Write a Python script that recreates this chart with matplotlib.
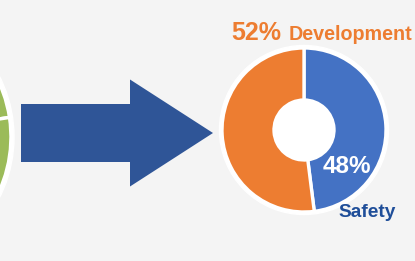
import matplotlib.pyplot as plt
from matplotlib.patches import FancyArrow, Circle

# donut data (clockwise from top)
labels = ["Safety", "Development"]
shares = [48, 52]
colors = ["#4472C4", "#ED7D31"]

# partially visible pie on the left edge
left_shares = [50, 50]
left_colors = ["#9BBB59", "#9BBB59"]

W, H = 415, 261
fig = plt.figure(figsize=(W / 100, H / 100), dpi=100)
fig.patch.set_facecolor("#F4F4F4")
ax = fig.add_axes([0, 0, 1, 1])
ax.set_facecolor("#F4F4F4")

# left green pie, mostly cut off
ax.add_patch(Circle((-120, 124), 134, color="white", zorder=1))
ax.pie(left_shares, colors=left_colors, center=(-120, 124), radius=131,
       startangle=8.6, counterclock=True,
       wedgeprops=dict(edgecolor="white", linewidth=2.5, zorder=2))

# arrow
ax.add_patch(FancyArrow(21, 128, 192, 0, width=58, head_width=107,
                        head_length=83, length_includes_head=True,
                        color="#2F5597", lw=0, zorder=3))

# donut
cx, cy = 304, 131
ax.add_patch(Circle((cx, cy), 84.5, color="white", zorder=1))
ax.pie(shares, colors=colors, center=(cx, cy), radius=82, startangle=90,
       counterclock=False,
       wedgeprops=dict(width=52, edgecolor="white", linewidth=2.4, zorder=2))

font = "Liberation Sans"
ax.text(231, 221, f"{shares[1]}%", color="#ED7D31", fontsize=18,
        fontweight="bold", family=font, va="baseline", ha="left")
ax.text(289, 221, labels[1], color="#ED7D31", fontsize=14.2,
        fontweight="bold", family=font, va="baseline", ha="left")
ax.text(323, 88, f"{shares[0]}%", color="white", fontsize=17.5,
        fontweight="bold", family=font, va="baseline", ha="left", zorder=5)
ax.text(338, 44, labels[0], color="#1F4E99", fontsize=13.8,
        fontweight="bold", family=font, va="baseline", ha="left")

ax.set_xlim(0, W)
ax.set_ylim(0, H)
ax.set_aspect("auto")
ax.axis("off")

fig.savefig("out.png", dpi=100, facecolor=fig.get_facecolor())
